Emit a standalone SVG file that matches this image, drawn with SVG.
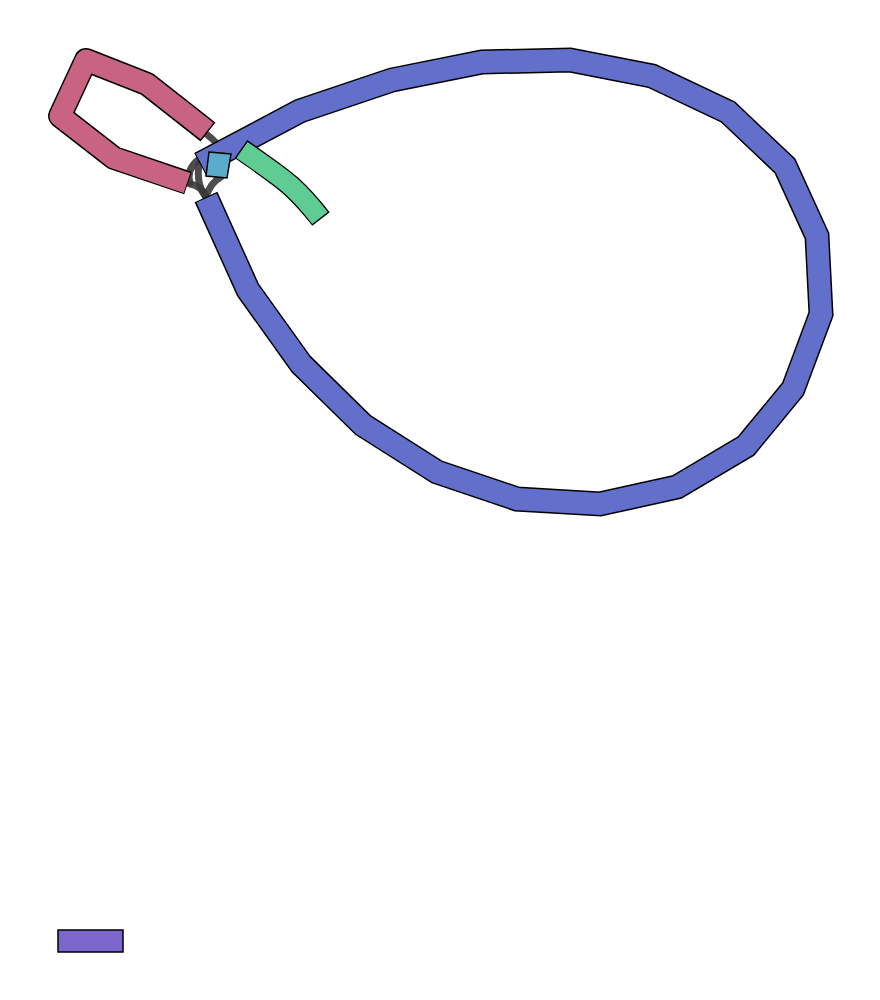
<svg xmlns="http://www.w3.org/2000/svg" width="880" height="1000" viewBox="0 0 880 1000">
<style>
.o{fill:none;stroke:#000}
.e{fill:none;stroke:#3a3a3a;stroke-width:7;stroke-opacity:0.9;stroke-linecap:round}
</style>
<rect width="880" height="1000" fill="#fff"/>
<g id="edges">
<path class="e" d="M205,133 Q212,138 218,145"/>
<path class="e" d="M198,160 Q186,170 190,183"/>
<path class="e" d="M199,164 Q196,185 206,197"/>
<path class="e" d="M190,184 Q202,186 206,197"/>
<path class="e" d="M221,177 Q210,183 206,197"/>
</g>
<g id="node-blue">
<path class="o" stroke-width="25" stroke-linejoin="miter" d="M200,164 L300,111 L392,80 L482,62 L570,60 L652,76 L728,112 L785,166 L817,236 L821,314 L793,389 L746,446 L677,487 L600,504 L517,499 L437,472 L363,425 L301,364 L248,290 L206,197"/>
<path fill="none" stroke="#6270cc" stroke-width="22" stroke-linejoin="miter" d="M201,163.5 L300,111 L392,80 L482,62 L570,60 L652,76 L728,112 L785,166 L817,236 L821,314 L793,389 L746,446 L677,487 L600,504 L517,499 L437,472 L363,425 L301,364 L248,290 L206.5,198"/>
</g>
<g id="node-pink">
<path class="o" stroke-width="24" stroke-linejoin="round" d="M208,132 L147,84 L86,60 L60,116 L114,158 L188,183"/>
<path fill="none" stroke="#c96382" stroke-width="21" stroke-linejoin="round" d="M207,131 L147,84 L86,60 L60,116 L114,158 L187,183"/>
</g>
<g id="node-green">
<path class="o" stroke-width="22" d="M241,149 C265,166 280,176 291,186 S310,205 321,219"/>
<path fill="none" stroke="#5fcc93" stroke-width="19.5" d="M242,150 C265,166 280,176 291,186 S310,205 320,218"/>
</g>
<g id="node-cyan">
<polygon points="209,152 231,154 227,178 206,176" fill="#5aaccc" stroke="#000" stroke-width="1.5"/>
</g>
<g id="node-purple">
<rect x="58" y="930" width="65" height="22" fill="#7a66cc" stroke="#000" stroke-width="1.5"/>
</g>
</svg>
